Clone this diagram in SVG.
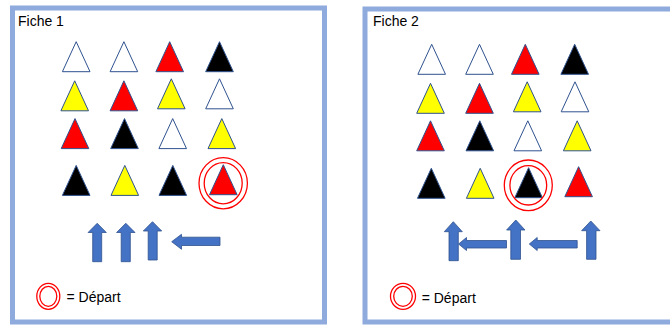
<svg xmlns="http://www.w3.org/2000/svg" xmlns:xlink="http://www.w3.org/1999/xlink" width="670" height="325" viewBox="0 0 670 325">
<style>
.frame{fill:#FFFFFF;stroke:#8FAADC;stroke-width:5}
.lbl{font-family:"Liberation Sans",Arial,sans-serif;font-size:14px;fill:#000000}
.tri{stroke:#2F528F;stroke-width:1}
.w{fill:#FFFFFF}
.y{fill:#FFFF00}
.r{fill:#FF0000}
.k{fill:#000000}
.ring{fill:none;stroke:#FF0000;stroke-width:1.3}
.arr{fill:#4472C4;stroke:#2F528F;stroke-width:0.8}
</style>
<defs>
<path id="t" d="M0,-15 L13.8,15 L-13.8,15 Z"/>
</defs>
<rect width="670" height="325" fill="#FFFFFF"/>

<g id="fiche1">
<rect class="frame" x="12.5" y="8" width="312" height="314"/>
<text class="lbl" x="18" y="26">Fiche 1</text>
<g id="f1-r1c1"><use xlink:href="#t" class="tri w" x="76.2" y="56.7"/></g>
<g id="f1-r1c2"><use xlink:href="#t" class="tri w" x="123.9" y="56.7"/></g>
<g id="f1-r1c3"><use xlink:href="#t" class="tri r" x="169.7" y="56.7"/></g>
<g id="f1-r1c4"><use xlink:href="#t" class="tri k" x="219.5" y="56.7"/></g>
<g id="f1-r2c1"><use xlink:href="#t" class="tri y" x="74.7" y="95.8"/></g>
<g id="f1-r2c2"><use xlink:href="#t" class="tri r" x="123.9" y="95.8"/></g>
<g id="f1-r2c3"><use xlink:href="#t" class="tri y" x="171.3" y="93.8"/></g>
<g id="f1-r2c4"><use xlink:href="#t" class="tri w" x="219.5" y="93.8"/></g>
<g id="f1-r3c1"><use xlink:href="#t" class="tri r" x="75" y="133.6"/></g>
<g id="f1-r3c2"><use xlink:href="#t" class="tri k" x="124.5" y="133.6"/></g>
<g id="f1-r3c3"><use xlink:href="#t" class="tri w" x="172.7" y="133.6"/></g>
<g id="f1-r3c4"><use xlink:href="#t" class="tri y" x="221.8" y="133.6"/></g>
<g id="f1-r4c1"><use xlink:href="#t" class="tri k" x="76.2" y="180.4"/></g>
<g id="f1-r4c2"><use xlink:href="#t" class="tri y" x="124.8" y="180.4"/></g>
<g id="f1-r4c3"><use xlink:href="#t" class="tri k" x="172.8" y="180.4"/></g>
<g id="f1-r4c4">
<use xlink:href="#t" class="tri r" x="223.3" y="179.7"/>
<ellipse class="ring" cx="223.2" cy="183.2" rx="24.2" ry="25.6"/>
<ellipse class="ring" cx="223.2" cy="183.2" rx="19" ry="20.6"/>
</g>
<g id="f1-legend">
<ellipse class="ring" cx="48.3" cy="296.3" rx="11.5" ry="13"/>
<ellipse class="ring" cx="48.3" cy="296.3" rx="8.5" ry="10"/>
<text class="lbl" x="66.5" y="302.3">= Départ</text>
</g>
</g>

<g id="fiche2">
<rect class="frame" x="365" y="9" width="320" height="313"/>
<text class="lbl" x="373" y="26">Fiche 2</text>
<g id="f2-r1c1"><use xlink:href="#t" class="tri w" x="431.7" y="59.3"/></g>
<g id="f2-r1c2"><use xlink:href="#t" class="tri w" x="479.5" y="59.3"/></g>
<g id="f2-r1c3"><use xlink:href="#t" class="tri r" x="525.3" y="59.3"/></g>
<g id="f2-r1c4"><use xlink:href="#t" class="tri k" x="574.7" y="59.3"/></g>
<g id="f2-r2c1"><use xlink:href="#t" class="tri y" x="430.5" y="98.3"/></g>
<g id="f2-r2c2"><use xlink:href="#t" class="tri r" x="479.5" y="98.3"/></g>
<g id="f2-r2c3"><use xlink:href="#t" class="tri y" x="527.2" y="96.8"/></g>
<g id="f2-r2c4"><use xlink:href="#t" class="tri w" x="575" y="96.8"/></g>
<g id="f2-r3c1"><use xlink:href="#t" class="tri r" x="430.5" y="135.8"/></g>
<g id="f2-r3c2"><use xlink:href="#t" class="tri k" x="479.8" y="135.8"/></g>
<g id="f2-r3c3"><use xlink:href="#t" class="tri w" x="527.8" y="135.8"/></g>
<g id="f2-r3c4"><use xlink:href="#t" class="tri y" x="577.2" y="135.8"/></g>
<g id="f2-r4c1"><use xlink:href="#t" class="tri k" x="431.3" y="183.3"/></g>
<g id="f2-r4c2"><use xlink:href="#t" class="tri y" x="480.2" y="183.3"/></g>
<g id="f2-r4c3">
<use xlink:href="#t" class="tri k" x="528.6" y="182.7"/>
<ellipse class="ring" cx="528.3" cy="185.3" rx="24" ry="25.3"/>
<ellipse class="ring" cx="528.3" cy="185.3" rx="18.4" ry="19.7"/>
</g>
<g id="f2-r4c4"><use xlink:href="#t" class="tri r" x="578.6" y="181.7"/></g>
<g id="f2-legend">
<ellipse class="ring" cx="403" cy="296.3" rx="12.5" ry="13"/>
<ellipse class="ring" cx="403" cy="296.3" rx="9.3" ry="10"/>
<text class="lbl" x="421.7" y="303.3">= Départ</text>
</g>
</g>

<g id="connectors">
<polygon class="arr" points="97.2,223.3 106.3,232.5 101.7,232.5 101.7,261.7 92.7,261.7 92.7,232.5 88.1,232.5"/>
<polygon class="arr" points="125.8,223.3 135,232.5 130.3,232.5 130.3,261.7 121.2,261.7 121.2,232.5 116.6,232.5"/>
<polygon class="arr" points="152.5,221.7 161.7,231 157.2,231 157.2,260 148.2,260 148.2,231 143.3,231"/>
<polygon class="arr" points="171.7,241.7 181.5,234.3 181.5,237.2 220,237.2 220,245.5 181.5,245.5 181.5,249.3"/>

<polygon class="arr" points="453.3,221.7 462.3,231.7 458.3,231.7 458.3,260.7 449,260.7 449,231.7 444.3,231.7"/>
<polygon class="arr" points="458.6,244 466.5,237.5 466.5,240.5 506.5,240.5 506.5,248 466.5,248 466.5,250.5"/>
<polygon class="arr" points="515.8,220 525,230 520.5,230 520.5,259.3 510.8,259.3 510.8,230 506.6,230"/>
<polygon class="arr" points="529.3,244 537.2,237.5 537.2,240.5 577.2,240.5 577.2,248 537.2,248 537.2,250.5"/>
<polygon class="arr" points="590.8,221 600,230.7 596,230.7 596,259.3 586.6,259.3 586.6,230.7 581.6,230.7"/>
</g>
</svg>
